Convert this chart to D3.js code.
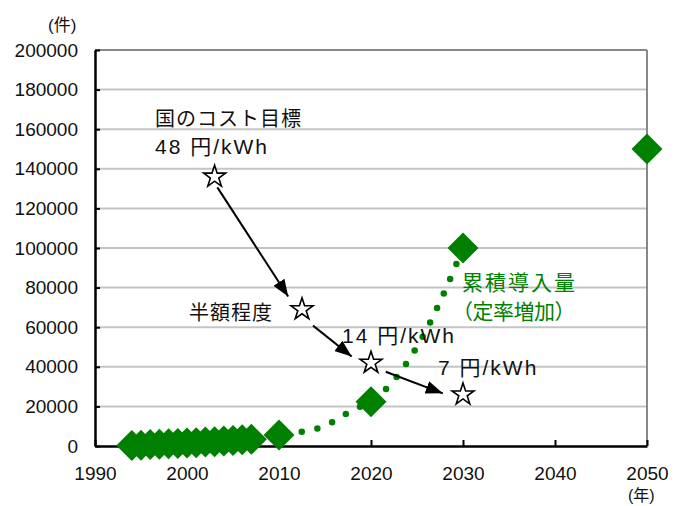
<!DOCTYPE html>
<html>
<head>
<meta charset="utf-8">
<script src="https://cdn.jsdelivr.net/npm/d3@7/dist/d3.min.js"></script>
<style>
  html, body { margin: 0; padding: 0; background: #fff; }
  svg { display: block; }
  .num { font-family: "Liberation Sans", Arial, sans-serif; }
  .jp  { font-family: "Liberation Sans", "Noto Sans CJK JP", sans-serif; }
</style>
</head>
<body>
<svg id="chart" width="684" height="506"></svg>
<script>
// Cumulative installations (件) by year
const installYears  = [1994, 1995, 1996, 1997, 1998, 1999, 2000, 2001, 2002, 2003, 2004, 2005, 2006, 2007, 2010, 2020, 2030, 2050];
const installValues = [200, 400, 700, 900, 1100, 1300, 1500, 1700, 2000, 2200, 2500, 2800, 3100, 3400, 5500, 22400, 100000, 150000];

// Growth path at a constant rate (dotted line)
const trendYears  = [2010, 2012, 2014, 2016, 2018, 2020, 2022, 2024, 2026, 2028, 2030];
const trendValues = [5500, 6800, 8600, 12500, 18300, 22400, 30600, 42800, 58500, 78000, 100000];

// Cost target milestones (stars)
const targetYears  = [2003, 2012.5, 2020, 2030];
const targetValues = [136000, 69000, 42000, 26000];

// Arrows between milestones: start and tip in data units
const arrowFromYears  = [2003.3, 2013.7, 2021.6];
const arrowFromValues = [130600, 60800, 37500];
const arrowToYears    = [2011.0, 2017.9, 2027.8];
const arrowToValues   = [75500, 45200, 26600];

// Axis ticks
const xTicks = [1990, 2000, 2010, 2020, 2030, 2040, 2050];
const yTicks = [0, 20000, 40000, 60000, 80000, 100000, 120000, 140000, 160000, 180000, 200000];

const svg = d3.select("#chart");
const green = "#008000";

const x = d3.scaleLinear().domain([1990, 2050]).range([95, 647]);
const y = d3.scaleLinear().domain([0, 200000]).range([446, 50]);

// Horizontal gridlines
svg.append("g")
  .selectAll("line")
  .data(yTicks.filter(d => d > 0 && d < 200000))
  .join("line")
  .attr("x1", x(1990)).attr("x2", x(2050))
  .attr("y1", d => y(d)).attr("y2", d => y(d))
  .attr("stroke", "#c4c4c4").attr("stroke-width", 2);

// Plot frame: top and right edges
svg.append("line")
  .attr("x1", x(1990)).attr("x2", x(2050))
  .attr("y1", y(200000)).attr("y2", y(200000))
  .attr("stroke", "#888").attr("stroke-width", 2);
svg.append("line")
  .attr("x1", x(2050)).attr("x2", x(2050))
  .attr("y1", y(200000)).attr("y2", y(0))
  .attr("stroke", "#888").attr("stroke-width", 2);

// Y axis
const yAxis = svg.append("g")
  .attr("transform", `translate(${x(1990)},0)`)
  .call(d3.axisLeft(y).tickValues(yTicks).tickFormat(d3.format("d")).tickSizeInner(-5).tickSizeOuter(0).tickPadding(17));
yAxis.select(".domain").attr("stroke", "#000").attr("stroke-width", 2.5);
yAxis.selectAll(".tick line").attr("stroke", "#000").attr("stroke-width", 2);
yAxis.selectAll(".tick text")
  .attr("class", "num").attr("font-size", 19).attr("fill", "#111");

// X axis
const xAxis = svg.append("g")
  .attr("transform", `translate(0,${y(0)})`)
  .call(d3.axisBottom(x).tickValues(xTicks).tickFormat(d3.format("d")).tickSizeInner(-6).tickSizeOuter(0).tickPadding(21));
xAxis.select(".domain").attr("stroke", "#000").attr("stroke-width", 2.5);
xAxis.selectAll(".tick line").attr("stroke", "#000").attr("stroke-width", 2);
xAxis.selectAll(".tick text")
  .attr("class", "num").attr("font-size", 19).attr("fill", "#111");

// Unit labels
svg.append("text").attr("class", "jp")
  .attr("x", 48).attr("y", 31).attr("font-size", 17).attr("fill", "#111")
  .text("(件)");
svg.append("text").attr("class", "jp")
  .attr("x", 628).attr("y", 501).attr("font-size", 16).attr("fill", "#111")
  .text("(年)");

// Dotted growth curve
const trend = trendYears.map((d, i) => [d, trendValues[i]]);
svg.append("path")
  .datum(trend)
  .attr("d", d3.line().x(d => x(d[0])).y(d => y(d[1])).curve(d3.curveMonotoneX))
  .attr("fill", "none")
  .attr("stroke", green)
  .attr("stroke-width", 6.5)
  .attr("stroke-linecap", "round")
  .attr("stroke-dasharray", "0 16")
  .attr("stroke-dashoffset", 9);

// Diamond markers for cumulative installations
const diamond = d3.symbol().type(d3.symbolSquare).size(480);
svg.append("g")
  .selectAll("path")
  .data(installYears.map((d, i) => [d, installValues[i]]))
  .join("path")
  .attr("d", diamond)
  .attr("transform", d => `translate(${x(d[0])},${y(d[1])}) rotate(45)`)
  .attr("fill", green);

// Arrows between cost milestones
svg.append("defs").append("marker")
  .attr("id", "head")
  .attr("viewBox", "0 0 17 13")
  .attr("refX", 17).attr("refY", 6.5)
  .attr("markerWidth", 17).attr("markerHeight", 13)
  .attr("markerUnits", "userSpaceOnUse")
  .attr("orient", "auto")
  .append("path")
  .attr("d", "M0,0 L17,6.5 L0,13 Z")
  .attr("fill", "#000");

svg.append("g")
  .selectAll("line")
  .data(arrowFromYears.map((d, i) => i))
  .join("line")
  .attr("x1", i => x(arrowFromYears[i])).attr("y1", i => y(arrowFromValues[i]))
  .attr("x2", i => x(arrowToYears[i])).attr("y2", i => y(arrowToValues[i]))
  .attr("stroke", "#000").attr("stroke-width", 2)
  .attr("marker-end", "url(#head)");

// Star markers for cost milestones
const star = d3.symbol().type(d3.symbolStar).size(150);
svg.append("g")
  .selectAll("path")
  .data(targetYears.map((d, i) => [d, targetValues[i]]))
  .join("path")
  .attr("d", star)
  .attr("transform", d => `translate(${x(d[0])},${y(d[1])})`)
  .attr("fill", "#fff")
  .attr("stroke", "#000")
  .attr("stroke-width", 1.6)
  .attr("stroke-linejoin", "miter");

// Annotation texts
const notes = svg.append("g").attr("class", "jp").attr("fill", "#111").attr("font-size", 20);
notes.append("text").attr("x", 155).attr("y", 126).attr("letter-spacing", 1).text("国のコスト目標");
notes.append("text").attr("x", 155).attr("y", 154).attr("font-size", 21).attr("letter-spacing", 2).text("48 円/kWh");
notes.append("text").attr("x", 189).attr("y", 320).attr("letter-spacing", 1).text("半額程度");
notes.append("text").attr("x", 342).attr("y", 343).attr("font-size", 21).attr("letter-spacing", 2).text("14 円/kWh");
notes.append("text").attr("x", 438).attr("y", 375).attr("font-size", 21).attr("letter-spacing", 2).text("7 円/kWh");

const series = svg.append("g").attr("class", "jp").attr("fill", green).attr("font-size", 21);
series.append("text").attr("x", 462).attr("y", 290).attr("letter-spacing", 2).text("累積導入量");
series.append("text").attr("x", 452).attr("y", 319).attr("letter-spacing", -0.5).text("（定率増加）");
</script>
</body>
</html>
